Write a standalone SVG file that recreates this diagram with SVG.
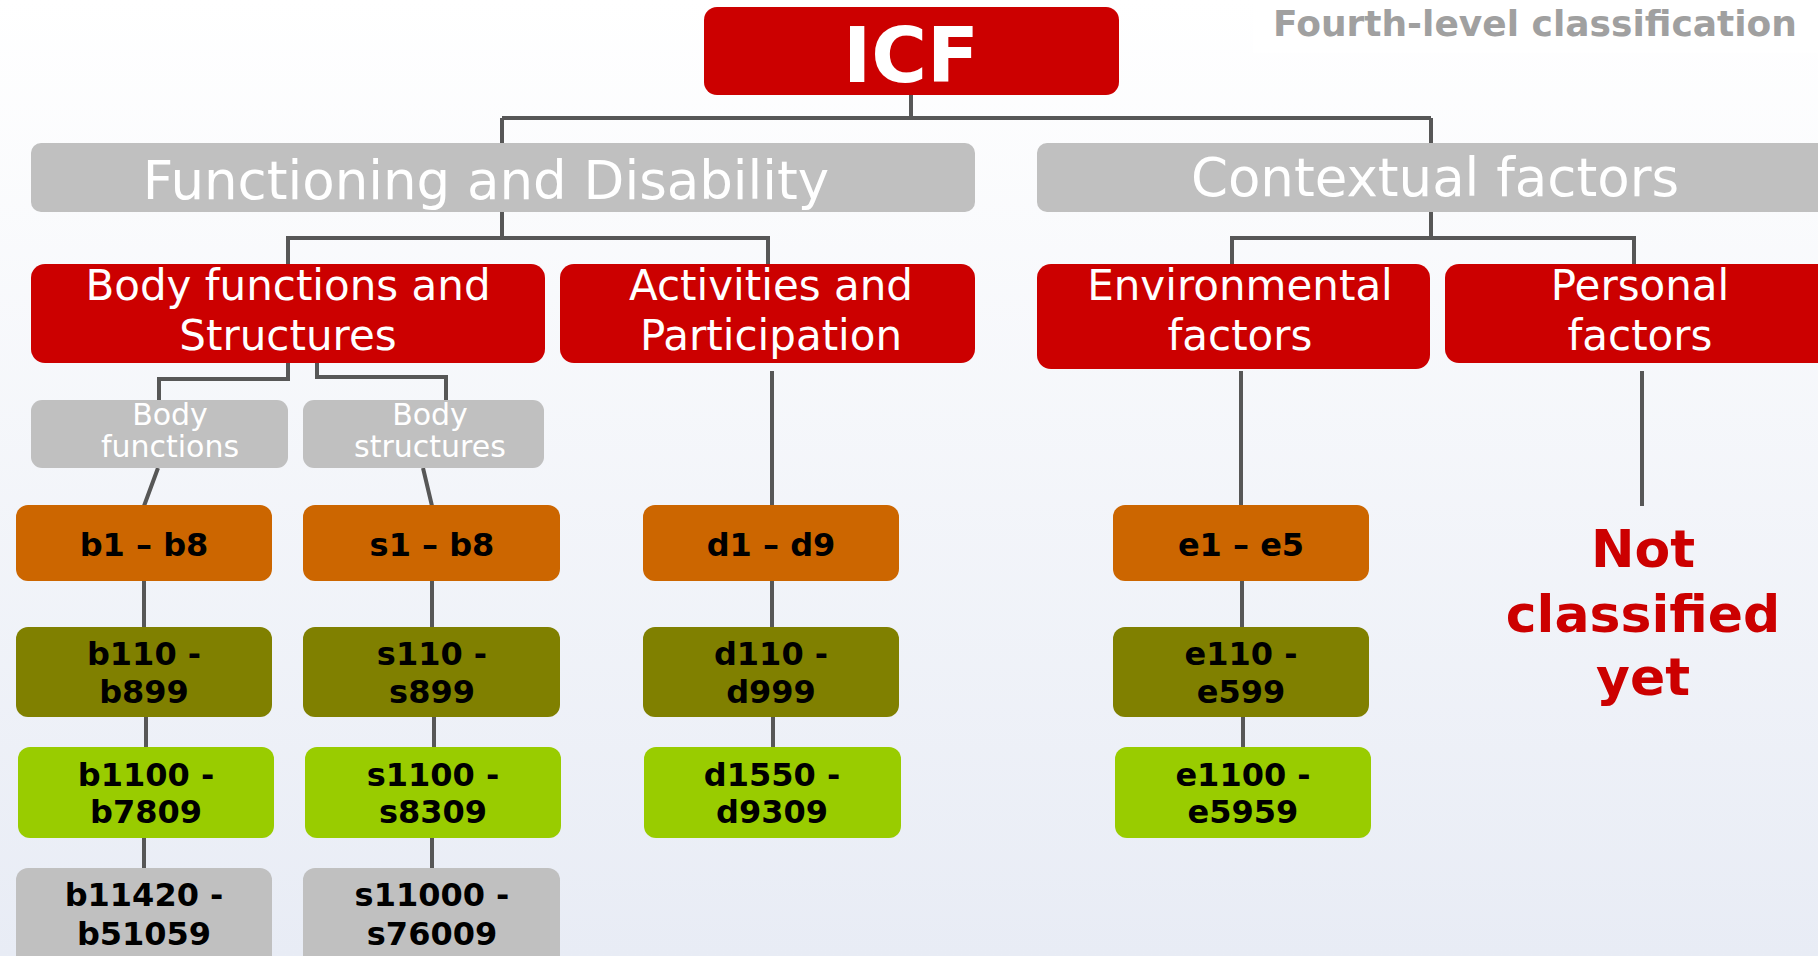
<svg xmlns="http://www.w3.org/2000/svg" width="1818" height="956" viewBox="0 0 1818 956">
<defs>
<linearGradient id="bg" x1="0" y1="0" x2="0" y2="1">
<stop offset="0" stop-color="#ffffff"/>
<stop offset="1" stop-color="#e8ecf5"/>
</linearGradient>
<style>
text{font-family:"DejaVu Sans",Verdana,"Liberation Sans",sans-serif;text-anchor:middle}
.red{fill:#cc0000}
.gray{fill:#c0c0c0}
.org{fill:#cc6600}
.olv{fill:#808000}
.lim{fill:#99cc00}
.code{font-size:32px;font-weight:bold;fill:#000000}
.l2{font-size:42px;fill:#ffffff}
.l1{font-size:53px;fill:#ffffff}
.sub{font-size:30px;fill:#ffffff}
.conn{stroke:#575757;stroke-width:4;fill:none}
</style>
</defs>
<rect width="1818" height="956" fill="url(#bg)"/>
<rect x="1253" y="0" width="565" height="53" fill="#ffffff" opacity="0.6"/>
<text x="1535" y="36" style="font-size:36px;font-weight:bold;fill:#a0a0a0">Fourth-level classification</text>

<g id="connectors" class="conn">
<path d="M911 95V118M502 118H1431M502 118V143M1431 118V143"/>
<path d="M502 212V238M288 264V238H768V264"/>
<path d="M1431 212V238M1232 264V238H1634V264"/>
<path d="M288 363V379H159V400M317 363V377H446V400"/>
<path d="M158 468L144 506M423 468L432 506"/>
<path d="M144 581V627M146 717V747M144 838V868"/>
<path d="M432 581V627M434 717V747M432 838V868"/>
<path d="M772 371V505M772 581V627M773 717V747"/>
<path d="M1241 371V505M1242 581V627M1243 717V747"/>
<path d="M1642 371V506"/>
</g>

<g id="icf"><rect class="red" x="704" y="7" width="415" height="88" rx="13"/><text x="911" y="82" style="font-size:76px;font-weight:bold;fill:#fff">ICF</text></g>

<g id="functioning"><rect class="gray" x="31" y="143" width="944" height="69" rx="10"/><text class="l1" x="486" y="199">Functioning and Disability</text></g>
<g id="contextual"><rect class="gray" x="1037" y="143" width="800" height="69" rx="10"/><text class="l1" x="1435" y="196">Contextual factors</text></g>

<g id="bodyfs"><rect class="red" x="31" y="264" width="514" height="99" rx="14"/><text class="l2" x="288" y="300">Body functions and</text><text class="l2" x="288" y="350">Structures</text></g>
<g id="activities"><rect class="red" x="560" y="264" width="415" height="99" rx="14"/><text class="l2" x="771" y="300">Activities and</text><text class="l2" x="771" y="350">Participation</text></g>
<g id="environmental"><rect class="red" x="1037" y="264" width="393" height="105" rx="14"/><text class="l2" x="1240" y="300">Environmental</text><text class="l2" x="1240" y="350">factors</text></g>
<g id="personal"><rect class="red" x="1445" y="264" width="390" height="99" rx="14"/><text class="l2" x="1640" y="300">Personal</text><text class="l2" x="1640" y="350">factors</text></g>

<g id="bodyfunctions"><rect class="gray" x="31" y="400" width="257" height="68" rx="11"/><text class="sub" x="170" y="425">Body</text><text class="sub" x="170" y="457">functions</text></g>
<g id="bodystructures"><rect class="gray" x="303" y="400" width="241" height="68" rx="11"/><text class="sub" x="430" y="425">Body</text><text class="sub" x="430" y="457">structures</text></g>

<g id="b1"><rect class="org" x="16" y="505" width="256" height="76" rx="12"/><text class="code" x="144" y="556">b1 – b8</text></g>
<g id="s1"><rect class="org" x="303" y="505" width="257" height="76" rx="12"/><text class="code" x="432" y="556">s1 – b8</text></g>
<g id="d1"><rect class="org" x="643" y="505" width="256" height="76" rx="12"/><text class="code" x="771" y="556">d1 – d9</text></g>
<g id="e1"><rect class="org" x="1113" y="505" width="256" height="76" rx="12"/><text class="code" x="1241" y="556">e1 – e5</text></g>

<g id="b110"><rect class="olv" x="16" y="627" width="256" height="90" rx="12"/><text class="code" x="144" y="665">b110 -</text><text class="code" x="144" y="703">b899</text></g>
<g id="s110"><rect class="olv" x="303" y="627" width="257" height="90" rx="12"/><text class="code" x="432" y="665">s110 -</text><text class="code" x="432" y="703">s899</text></g>
<g id="d110"><rect class="olv" x="643" y="627" width="256" height="90" rx="12"/><text class="code" x="771" y="665">d110 -</text><text class="code" x="771" y="703">d999</text></g>
<g id="e110"><rect class="olv" x="1113" y="627" width="256" height="90" rx="12"/><text class="code" x="1241" y="665">e110 -</text><text class="code" x="1241" y="703">e599</text></g>

<g id="b1100"><rect class="lim" x="18" y="747" width="256" height="91" rx="12"/><text class="code" x="146" y="786">b1100 -</text><text class="code" x="146" y="823">b7809</text></g>
<g id="s1100"><rect class="lim" x="305" y="747" width="256" height="91" rx="12"/><text class="code" x="433" y="786">s1100 -</text><text class="code" x="433" y="823">s8309</text></g>
<g id="d1550"><rect class="lim" x="644" y="747" width="257" height="91" rx="12"/><text class="code" x="772" y="786">d1550 -</text><text class="code" x="772" y="823">d9309</text></g>
<g id="e1100"><rect class="lim" x="1115" y="747" width="256" height="91" rx="12"/><text class="code" x="1243" y="786">e1100 -</text><text class="code" x="1243" y="823">e5959</text></g>

<g id="b11420"><rect class="gray" x="16" y="868" width="256" height="100" rx="12"/><text class="code" x="144" y="906">b11420 -</text><text class="code" x="144" y="945">b51059</text></g>
<g id="s11000"><rect class="gray" x="303" y="868" width="257" height="100" rx="12"/><text class="code" x="432" y="906">s11000 -</text><text class="code" x="432" y="945">s76009</text></g>

<g id="notclassified" style="font-size:52px;font-weight:bold;fill:#cc0000"><text x="1643" y="567">Not</text><text x="1643" y="632">classified</text><text x="1643" y="695">yet</text></g>
</svg>
